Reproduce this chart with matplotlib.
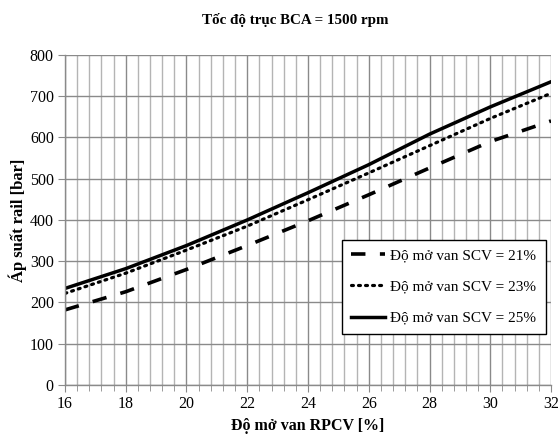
import matplotlib
matplotlib.use("Agg")
import matplotlib.pyplot as plt
from matplotlib.ticker import MultipleLocator

x_rpcv = [16, 18, 20, 22, 24, 26, 28, 30, 32]
p_scv21 = [182, 226, 280, 338, 398, 461, 526, 590, 640]
p_scv23 = [222, 271, 327, 385, 449, 514, 580, 646, 707]
p_scv25 = [234, 282, 338, 400, 466, 534, 608, 674, 735]
labels = ["Độ mở van SCV = 21%", "Độ mở van SCV = 23%", "Độ mở van SCV = 25%"]
title = "Tốc độ trục BCA = 1500 rpm"
xlabel = "Độ mở van RPCV [%]"
ylabel = "Áp suất rail [bar]"

plt.rcParams['font.family'] = ['Liberation Serif', 'DejaVu Serif']

fig = plt.figure(figsize=(5.6, 4.36), dpi=100)
ax = fig.add_axes([0.116, 0.117, 0.868, 0.757])

ax.plot(x_rpcv, p_scv21, color='black', lw=2.6, ls=(0, (4, 4)), label=labels[0])
ax.plot(x_rpcv, p_scv23, color='black', lw=2.3, ls=(0, (0.6, 1.6)),
        dash_capstyle='round', label=labels[1])
ax.plot(x_rpcv, p_scv25, color='black', lw=2.5, label=labels[2])

ax.set_xlim(16, 32)
ax.set_ylim(0, 800)
ax.xaxis.set_major_locator(MultipleLocator(2))
ax.xaxis.set_minor_locator(MultipleLocator(0.4))
ax.yaxis.set_major_locator(MultipleLocator(100))

ax.grid(which='major', axis='both', color='#8a8a8a', lw=1.0)
ax.grid(which='minor', axis='x', color='#b4b4b4', lw=1.0)
ax.set_axisbelow(True)

for s in ['top', 'right']:
    ax.spines[s].set_visible(False)
for s in ['left', 'bottom']:
    ax.spines[s].set_color('#8a8a8a')
    ax.spines[s].set_linewidth(1.0)

ax.tick_params(which='both', direction='out', color='#8a8a8a', labelsize=11.5, pad=3)
ax.tick_params(which='major', length=5)
ax.tick_params(which='minor', length=4)
ax.tick_params(axis='y', which='minor', left=False)

ax.set_xlabel(xlabel, fontsize=11.5, fontweight='bold', labelpad=4)
ax.set_ylabel(ylabel, fontsize=12, fontweight='bold', labelpad=2)
fig.text(0.528, 0.953, title, fontsize=10.8, fontweight='bold', ha='center', va='center')

leg = ax.legend(loc='lower right', bbox_to_anchor=(0.995, 0.145), fontsize=11,
                frameon=True, fancybox=False, framealpha=1, edgecolor='black',
                handlelength=2.2, handletextpad=0.35, labelspacing=1.15,
                borderpad=0.6, borderaxespad=0.2)
leg.get_frame().set_linewidth(1.0)

fig.savefig("out.png", dpi=100)
